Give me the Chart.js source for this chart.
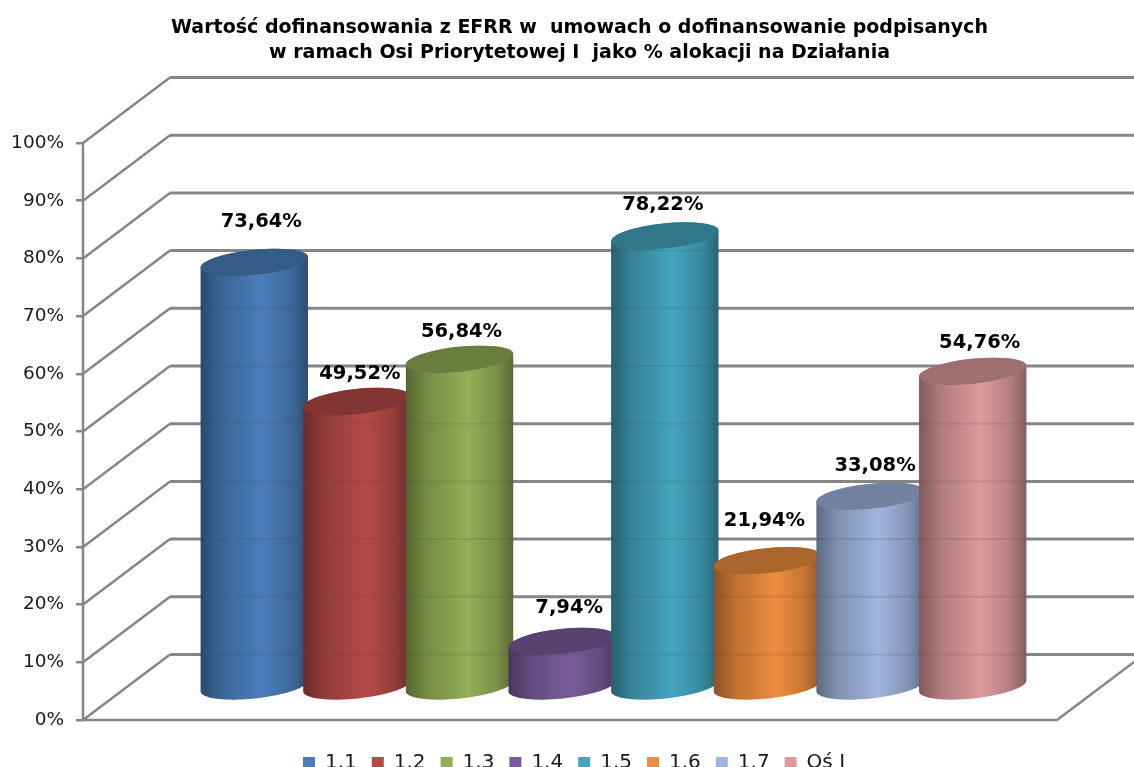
<!DOCTYPE html>
<html>
<head>
<meta charset="utf-8">
<title>Wartość dofinansowania z EFRR</title>
<script src="https://cdn.jsdelivr.net/npm/chart.js@4/dist/chart.umd.min.js"></script>
<style>
    html, body { margin: 0; padding: 0; background: #fff; }
    canvas { display: block; }
</style>
</head>
<body>
<canvas id="chart" width="1134" height="767"></canvas>
<script>
// dane
const titleLines = [
    'Wartość dofinansowania z EFRR w  umowach o dofinansowanie podpisanych',
    'w ramach Osi Priorytetowej I  jako % alokacji na Działania'
];
const categories = ['Działania'];
const seriesNames = ['1.1', '1.2', '1.3', '1.4', '1.5', '1.6', '1.7', 'Oś I'];
const seriesValues = [73.64, 49.52, 56.84, 7.94, 78.22, 21.94, 33.08, 54.76];
const seriesColors = ['#4a7ebb', '#b54a47', '#93ae56', '#7a5c9c', '#44a5bf', '#ee8d3f', '#a0b5de', '#dc9a9c'];

// przesunięcia etykiet względem wierzchu walca
const labelShift = [[7, -40], [3, -28], [2, -27], [7, -33], [-2, -31], [-3, -40], [5, -30], [7, -28]];

const FONT = '"DejaVu Sans", Verdana, sans-serif';
const LINE = '#868686';
const DEPTH_X = 87;
const DEPTH_Y = -65.5;
const TILT = -6 * Math.PI / 180;

function shade(hex, k) {
    const n = parseInt(hex.slice(1), 16);
    const r = Math.round((n >> 16) * k);
    const g = Math.round(((n >> 8) & 255) * k);
    const b = Math.round((n & 255) * k);
    return `rgb(${r},${g},${b})`;
}

// ściany 3D i linie siatki
const walls = {
    id: 'walls',
    beforeDatasetsDraw(chart) {
        const { ctx, chartArea, scales } = chart;
        const y = scales.y;
        const x0 = chartArea.left, x1 = chartArea.right;
        ctx.save();
        ctx.strokeStyle = LINE;
        ctx.lineCap = 'butt';
        y.ticks.forEach(t => {
            const py = y.getPixelForValue(t.value);
            ctx.lineWidth = 3;
            ctx.beginPath();
            ctx.moveTo(x0 + DEPTH_X, py + DEPTH_Y);
            ctx.lineTo(chart.width, py + DEPTH_Y);
            ctx.stroke();
            ctx.lineWidth = 2.5;
            ctx.beginPath();
            ctx.moveTo(x0, py);
            ctx.lineTo(x0 + DEPTH_X, py + DEPTH_Y);
            ctx.stroke();
        });
        const base = y.getPixelForValue(0);
        ctx.lineWidth = 2.5;
        ctx.beginPath();
        ctx.moveTo(x0, y.getPixelForValue(100));
        ctx.lineTo(x0, base);
        ctx.lineTo(x1, base);
        ctx.lineTo(x1 + DEPTH_X, base + DEPTH_Y);
        ctx.stroke();
        ctx.restore();
    },
    // słupki rysuje plugin cylinders
    beforeDatasetDraw() {
        return false;
    }
};

function drawCylinder(chart, el, color) {
    const ctx = chart.ctx;
    const cx = el.x + DEPTH_X / 2;
    const top = el.y + DEPTH_Y / 2;
    const bottom = el.base + DEPTH_Y / 2;
    const rx = el.width * 0.526;
    const ry = 12.5;
    const sx = rx * Math.cos(TILT), sy = rx * Math.sin(TILT);

    const grad = ctx.createLinearGradient(cx - rx, 0, cx + rx, 0);
    grad.addColorStop(0, shade(color, 0.58));
    grad.addColorStop(0.2, shade(color, 0.8));
    grad.addColorStop(0.58, shade(color, 1));
    grad.addColorStop(0.85, shade(color, 0.82));
    grad.addColorStop(1, shade(color, 0.6));

    ctx.save();
    ctx.beginPath();
    ctx.ellipse(cx, bottom, rx, ry, TILT, 0, Math.PI, false);
    ctx.lineTo(cx - sx, top - sy);
    ctx.ellipse(cx, top, rx, ry, TILT, Math.PI, 2 * Math.PI, false);
    ctx.closePath();
    ctx.fillStyle = grad;
    ctx.fill();

    // siatka lekko prześwituje przez walec
    ctx.clip();
    ctx.strokeStyle = 'rgba(60,60,60,0.13)';
    ctx.lineWidth = 2;
    chart.scales.y.ticks.forEach(t => {
        const py = chart.scales.y.getPixelForValue(t.value) + DEPTH_Y;
        if (py > top + ry) {
            ctx.beginPath();
            ctx.moveTo(cx - rx, py);
            ctx.lineTo(cx + rx, py);
            ctx.stroke();
        }
    });
    ctx.restore();

    ctx.beginPath();
    ctx.ellipse(cx, top, rx, ry, TILT, 0, 2 * Math.PI);
    ctx.fillStyle = shade(color, 0.72);
    ctx.fill();
}

const cylinders = {
    id: 'cylinders',
    afterDatasetsDraw(chart) {
        const ctx = chart.ctx;
        // kolejne serie zachodzą na poprzednie
        seriesValues.forEach((v, i) => {
            const el = chart.getDatasetMeta(i).data[0];
            drawCylinder(chart, el, seriesColors[i]);
        });
        ctx.save();
        ctx.font = 'bold 19.5px ' + FONT;
        ctx.fillStyle = '#000';
        ctx.textAlign = 'center';
        ctx.textBaseline = 'middle';
        seriesValues.forEach((v, i) => {
            const el = chart.getDatasetMeta(i).data[0];
            const text = v.toFixed(2).replace('.', ',') + '%';
            ctx.fillText(text, el.x + DEPTH_X / 2 + labelShift[i][0], el.y + DEPTH_Y / 2 + labelShift[i][1]);
        });
        ctx.restore();
    }
};

// tytuł i legenda nie są wyśrodkowane względem płótna
const nudge = {
    id: 'nudge',
    afterLayout(chart) {
        chart.titleBlock.left += 51;
        chart.titleBlock.right += 51;
        chart.legend.left += 45.5;
        chart.legend.right += 45.5;
        chart.legend.top += 16;
        chart.legend.bottom += 16;
    }
};

new Chart(document.getElementById('chart').getContext('2d'), {
    type: 'bar',
    data: {
        labels: categories,
        datasets: seriesNames.map((name, i) => ({
            label: name,
            data: [seriesValues[i]],
            backgroundColor: seriesColors[i],
            categoryPercentage: 0.843,
            barPercentage: 1
        }))
    },
    options: {
        responsive: false,
        animation: false,
        layout: { padding: { right: 77 } },
        plugins: {
            title: {
                display: true,
                text: titleLines,
                color: '#000',
                font: { family: FONT, size: 19, weight: 'bold', lineHeight: 1.35 },
                padding: { top: 15, bottom: 76.7 }
            },
            legend: {
                position: 'bottom',
                labels: {
                    color: '#1a1a1a',
                    font: { family: FONT, size: 20 },
                    boxWidth: 12,
                    boxHeight: 12,
                    padding: 15
                }
            },
            tooltip: { enabled: false }
        },
        scales: {
            x: {
                ticks: { display: false },
                grid: { display: false },
                border: { display: false },
                afterFit: s => { s.height = 2; }
            },
            y: {
                min: 0,
                max: 100,
                ticks: {
                    stepSize: 10,
                    padding: 12,
                    color: '#1a1a1a',
                    font: { family: FONT, size: 18.5 },
                    callback: v => v + '%'
                },
                grid: { drawOnChartArea: false, color: LINE, lineWidth: 2.5, tickLength: 7 },
                border: { display: false },
                afterFit: s => { s.width = 83; }
            }
        }
    },
    plugins: [walls, cylinders, nudge]
});
</script>
</body>
</html>
